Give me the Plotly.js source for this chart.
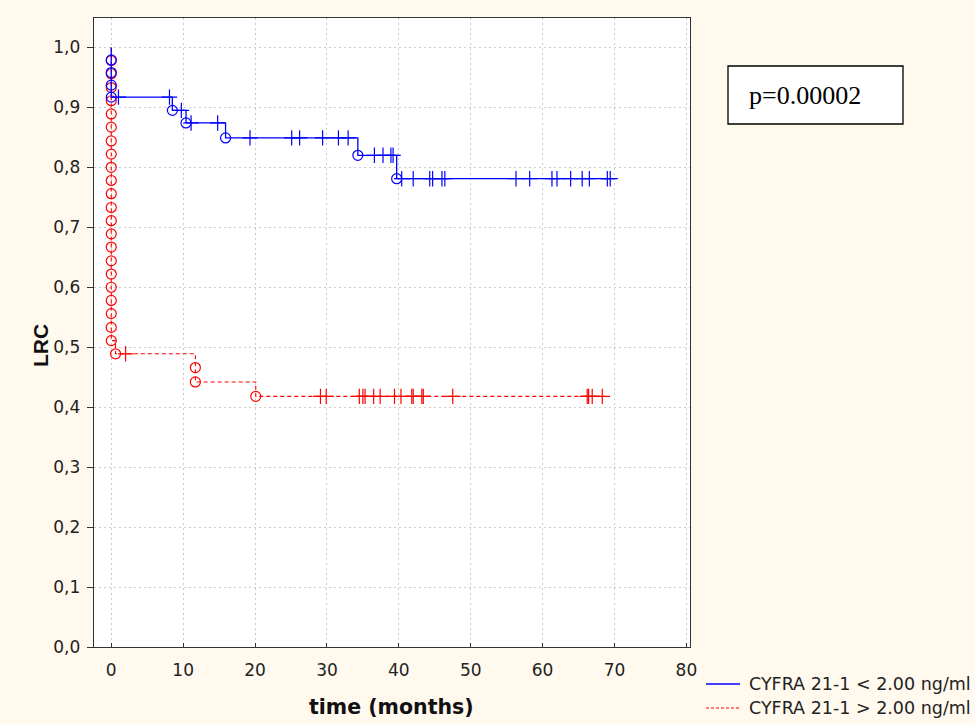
<!DOCTYPE html>
<html>
<head>
<meta charset="utf-8">
<script src="https://cdn.plot.ly/plotly-3.0.1.min.js"></script>
<style>html,body{margin:0;padding:0;background:#fff9ee;}#chart{width:975px;height:724px;}</style>
</head>
<body>
<div id="chart"></div>
<script>
// ---- Data ----
const seriesNames = ["CYFRA 21-1 < 2.00 ng/ml", "CYFRA 21-1 > 2.00 ng/ml"];

// Group 1 (blue): step curve
const blueStepT = [0, 0, 0, 0, 0, 8.5, 10.4, 15.9, 34.3, 39.7, 69.6];
const blueStepS = [1, 0.979, 0.958, 0.937, 0.917, 0.895, 0.874, 0.849, 0.820, 0.781, 0.781];
const blueEventT = [0, 0, 0, 0, 8.5, 10.4, 15.9, 34.3, 39.7];
const blueEventS = [0.979, 0.958, 0.937, 0.917, 0.895, 0.874, 0.849, 0.820, 0.781];
const blueCensT = [1.0, 8.1, 9.75, 11.1, 14.8, 19.3, 25.1, 26.2, 29.4, 31.6, 32.95,
                   36.6, 37.8, 38.9, 39.2, 40.4, 42.0, 44.3, 44.7, 46.0, 46.4,
                   56.3, 58.2, 61.3, 62.0, 63.9, 65.5, 66.5, 69.0, 69.4];
const blueCensS = [0.917, 0.917, 0.895, 0.874, 0.874, 0.849, 0.849, 0.849, 0.849, 0.849, 0.849,
                   0.820, 0.820, 0.820, 0.820, 0.781, 0.781, 0.781, 0.781, 0.781, 0.781,
                   0.781, 0.781, 0.781, 0.781, 0.781, 0.781, 0.781, 0.781, 0.781];

// Group 2 (red): step curve
const redZeroS = [0.978, 0.956, 0.933, 0.911, 0.889, 0.867, 0.844, 0.822, 0.800, 0.778, 0.756,
                  0.733, 0.711, 0.689, 0.667, 0.644, 0.622, 0.600, 0.578, 0.556, 0.533, 0.511];
const redLaterT = [0.6, 11.7, 11.7, 20.1];
const redLaterS = [0.489, 0.466, 0.442, 0.418];
const redEndT = 68.6;
const redCensT = [2.0, 29.1, 29.9, 34.5, 35.0, 35.3, 36.5, 37.4, 39.4, 40.3, 41.8, 42.0,
                  43.2, 43.4, 47.5, 66.2, 66.4, 66.9, 68.3];
const redCensS = [0.489, 0.418, 0.418, 0.418, 0.418, 0.418, 0.418, 0.418, 0.418, 0.418, 0.418, 0.418,
                  0.418, 0.418, 0.418, 0.418, 0.418, 0.418, 0.418];

const xTicks = [0, 10, 20, 30, 40, 50, 60, 70, 80];
const yTicks = [0, 0.1, 0.2, 0.3, 0.4, 0.5, 0.6, 0.7, 0.8, 0.9, 1.0];
const yTickText = ["0,0", "0,1", "0,2", "0,3", "0,4", "0,5", "0,6", "0,7", "0,8", "0,9", "1,0"];
const pText = "p=0.00002";

// ---- Build traces ----
const BLUE = "#0000ff", RED = "#ff0000";
const redStepT = [0].concat(redZeroS.map(() => 0), redLaterT, [redEndT]);
const redStepS = [1].concat(redZeroS, redLaterS, [redLaterS[redLaterS.length - 1]]);
const redEventT = redZeroS.map(() => 0).concat(redLaterT);
const redEventS = redZeroS.concat(redLaterS);

const traces = [
  {x: redStepT, y: redStepS, mode: "lines", line: {shape: "hv", color: RED, width: 1.1, dash: "4px,3px"}, hoverinfo: "skip", showlegend: false},
  {x: redEventT, y: redEventS, mode: "markers", marker: {symbol: "circle-open", size: 10, color: RED, line: {width: 1.2, color: RED}}, showlegend: false},
  {x: redCensT, y: redCensS, mode: "markers", marker: {symbol: "cross-thin-open", size: 11, color: RED, line: {width: 1.2, color: RED}}, showlegend: false},
  {x: blueStepT, y: blueStepS, mode: "lines", line: {shape: "hv", color: BLUE, width: 1.3}, hoverinfo: "skip", showlegend: false},
  {x: blueEventT, y: blueEventS, mode: "markers", marker: {symbol: "circle-open", size: 10, color: BLUE, line: {width: 1.2, color: BLUE}}, showlegend: false},
  {x: blueCensT, y: blueCensS, mode: "markers", marker: {symbol: "cross-thin-open", size: 11, color: BLUE, line: {width: 1.2, color: BLUE}}, showlegend: false}
];

// paper coordinate helpers (plot area: left 94, right 690, top 18, bottom 647)
const L = 94, R = 690, T = 18, B = 647;
const px = v => (v - L) / (R - L);
const py = v => (B - v) / (B - T);
const SANS = "DejaVu Sans, Verdana, sans-serif";

const layout = {
  width: 975, height: 724,
  margin: {l: L, r: 975 - R, t: T, b: 724 - B, pad: 0},
  paper_bgcolor: "#fff9ee",
  plot_bgcolor: "#ffffff",
  showlegend: false,
  font: {family: SANS, size: 17, color: "#222222"},
  xaxis: {
    range: [-2.4, 80.5], tickvals: xTicks, ticktext: xTicks.map(String),
    showgrid: true, gridcolor: "#cccccc", griddash: "2px,3px", gridwidth: 1,
    zeroline: false, showline: true, mirror: true, linecolor: "#333333", linewidth: 1.3,
    ticks: "inside", ticklen: 4, tickcolor: "#333333", ticklabelstandoff: 7,
    tickfont: {family: SANS, size: 17, color: "#222222"}
  },
  yaxis: {
    range: [0, 1.049], tickvals: yTicks, ticktext: yTickText,
    showgrid: true, gridcolor: "#cccccc", griddash: "2px,3px", gridwidth: 1,
    zeroline: false, showline: true, mirror: true, linecolor: "#333333", linewidth: 1.3,
    ticks: "outside", ticklen: 6, tickcolor: "#333333", ticklabelstandoff: 3,
    tickfont: {family: SANS, size: 17, color: "#222222"}
  },
  shapes: [
    {type: "rect", xref: "paper", yref: "paper", x0: px(728), x1: px(903), y0: py(124), y1: py(66),
     line: {color: "#000000", width: 1.3}, fillcolor: "#ffffff"},
    {type: "line", xref: "paper", yref: "paper", x0: px(706), x1: px(740), y0: py(684), y1: py(684),
     line: {color: BLUE, width: 1.3}},
    {type: "line", xref: "paper", yref: "paper", x0: px(706), x1: px(740), y0: py(708), y1: py(708),
     line: {color: RED, width: 1.1, dash: "3px,2px"}}
  ],
  annotations: [
    {xref: "paper", yref: "paper", x: px(747), y: py(95), xanchor: "left", yanchor: "middle",
     text: pText, showarrow: false, font: {family: "Liberation Serif, Times New Roman, serif", size: 26, color: "#000000"}},
    {xref: "paper", yref: "paper", x: px(747), y: py(684), xanchor: "left", yanchor: "middle",
     text: seriesNames[0], showarrow: false, font: {family: SANS, size: 17.5, color: "#222222"}},
    {xref: "paper", yref: "paper", x: px(747), y: py(708), xanchor: "left", yanchor: "middle",
     text: seriesNames[1], showarrow: false, font: {family: SANS, size: 17.5, color: "#222222"}},
    {xref: "paper", yref: "paper", x: px(391), y: py(707), xanchor: "center", yanchor: "middle",
     text: "<b>time (months)</b>", showarrow: false, font: {family: SANS, size: 20.5, color: "#111111"}},
    {xref: "paper", yref: "paper", x: px(40), y: py(346), xanchor: "center", yanchor: "middle", textangle: -90,
     text: "<b>LRC</b>", showarrow: false, font: {family: "Liberation Sans, Arial, sans-serif", size: 21, color: "#111111"}}
  ]
};

Plotly.newPlot("chart", traces, layout, {displayModeBar: false, staticPlot: true});
</script>
</body>
</html>
